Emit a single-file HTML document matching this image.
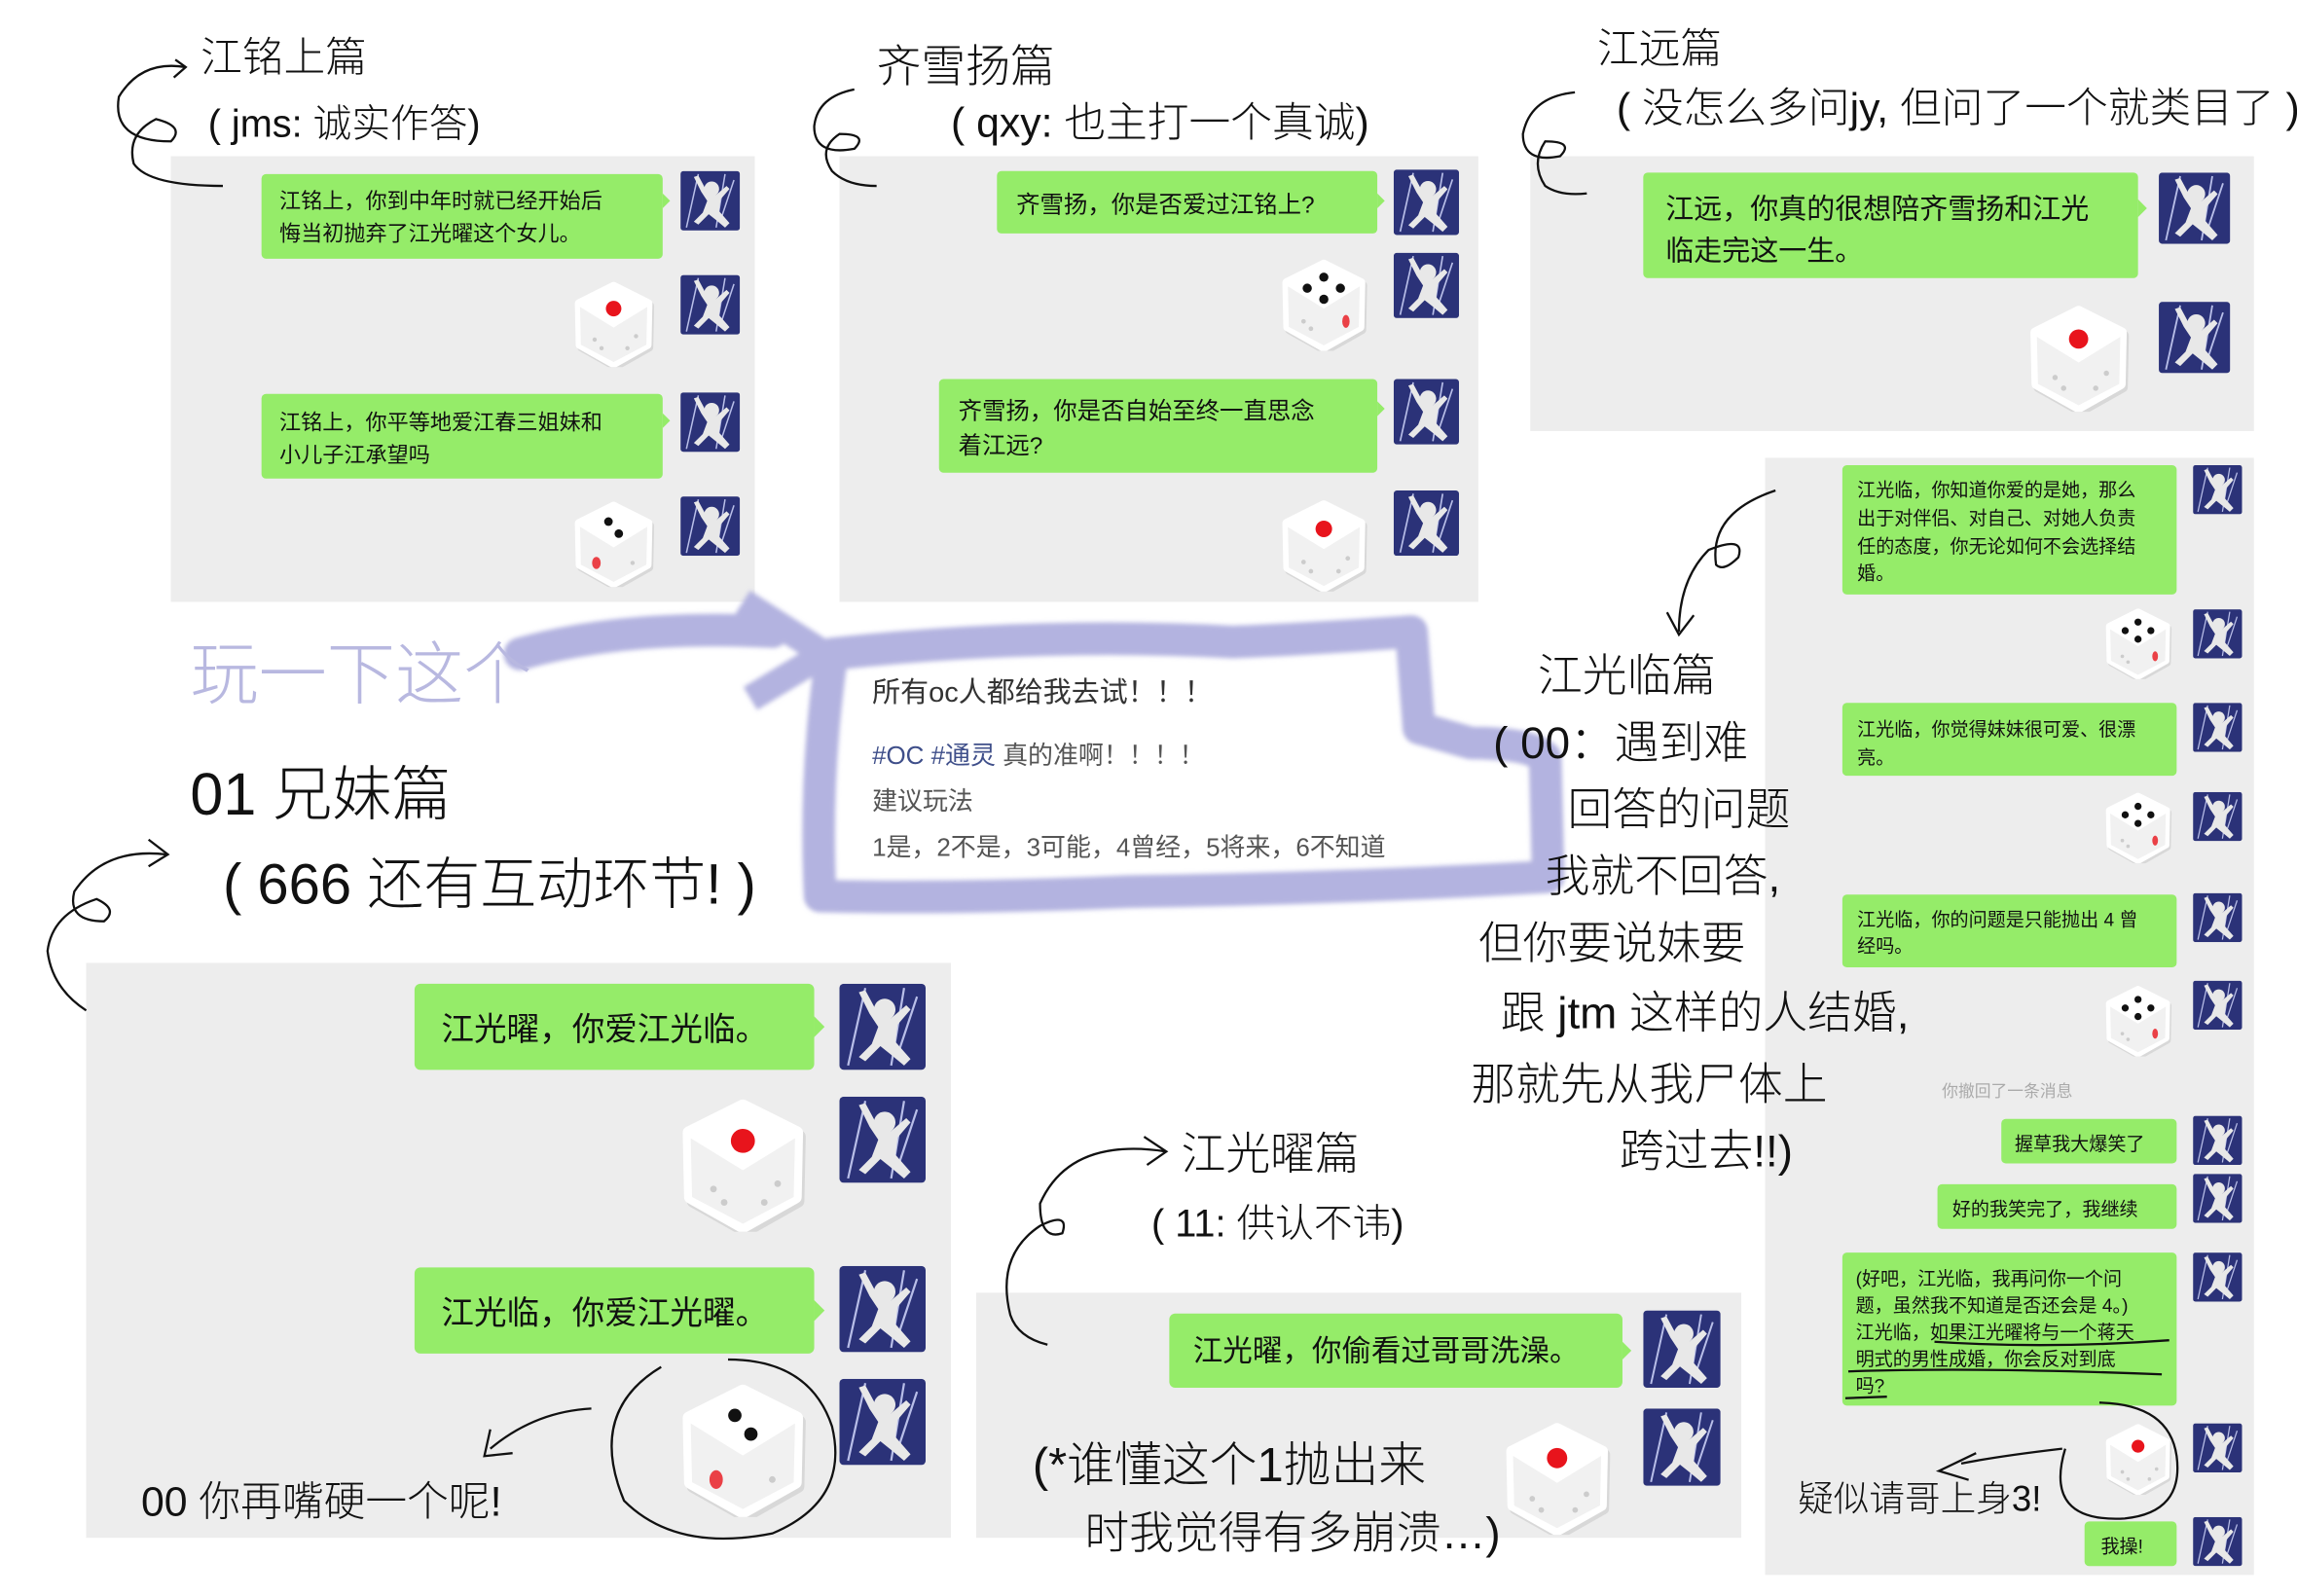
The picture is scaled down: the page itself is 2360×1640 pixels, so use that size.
<!DOCTYPE html>
<html><head><meta charset="utf-8">
<style>
html,body{margin:0;padding:0;background:#fff;}
svg{display:block;}
.s{font-family:"Liberation Sans","Noto Sans CJK SC",sans-serif;}
.h{font-family:"Liberation Sans","Noto Sans CJK SC",sans-serif;font-weight:300;fill:#111;}
</style></head><body>
<svg width="2360" height="1640" viewBox="0 0 1546 1074" xmlns="http://www.w3.org/2000/svg">
<defs>
<filter id="bl" x="-10%" y="-10%" width="120%" height="120%"><feGaussianBlur stdDeviation="1.5"/></filter>
<symbol id="av" viewBox="0 0 40 40">
<rect width="40" height="40" rx="2" fill="#2b3278"/>
<path d="M4 38 L12 2 M30 2 L24 38 M36 6 L28 30" stroke="#b8bee8" stroke-width="1" fill="none"/>
<circle cx="21" cy="12" r="5" fill="#e8e8e8"/>
<path d="M9 4 L14 14 L18 20 L15 28 L9 34 L12 36 L19 29 L24 33 L30 38 L33 35 L26 27 L27 19 L33 12 L31 10 L24 16 L19 16 L12 3 Z" fill="#e8e8e8"/>
</symbol>
<symbol id="dc" viewBox="-50 -50 100 100">
<path d="M0 -44 L40 -24 L39 24 L0 46 L-39 24 L-40 -24 Z" fill="#d8d8d8" stroke="#d8d8d8" stroke-width="10" stroke-linejoin="round" transform="translate(2,3)"/>
<path d="M0 -44 L40 -24 L39 24 L0 46 L-39 24 L-40 -24 Z" fill="#fff" stroke="#fff" stroke-width="10" stroke-linejoin="round"/>
<path d="M0 4 L39 -20 L38 24 L0 44 L-38 24 L-39 -20 Z" fill="#f1f1f1"/>
</symbol>
<symbol id="d1" viewBox="-50 -50 100 100"><use href="#dc" x="-50" y="-50" width="100" height="100"/><circle cx="0" cy="-18" r="9" fill="#e8141c"/><circle cx="-22" cy="18" r="2.5" fill="#ccc"/><circle cx="-14" cy="28" r="2.5" fill="#ccc"/><circle cx="16" cy="28" r="2.5" fill="#ccc"/><circle cx="26" cy="14" r="2.5" fill="#ccc"/></symbol>
<symbol id="d2" viewBox="-50 -50 100 100"><use href="#dc" x="-50" y="-50" width="100" height="100"/><circle cx="-6" cy="-26" r="5" fill="#111"/><circle cx="6" cy="-12" r="5" fill="#111"/><ellipse cx="-20" cy="22" rx="5" ry="7" fill="#e8141c" opacity=".8"/><circle cx="22" cy="22" r="2.5" fill="#ccc"/></symbol>
<symbol id="d4" viewBox="-50 -50 100 100"><use href="#dc" x="-50" y="-50" width="100" height="100"/><circle cx="0" cy="-30" r="5" fill="#111"/><circle cx="-18" cy="-18" r="5" fill="#111"/><circle cx="18" cy="-18" r="5" fill="#111"/><circle cx="0" cy="-6" r="5" fill="#111"/><ellipse cx="24" cy="18" rx="4" ry="7" fill="#e8141c" opacity=".8"/><circle cx="-22" cy="18" r="2.5" fill="#ccc"/><circle cx="-14" cy="26" r="2.5" fill="#ccc"/></symbol>
</defs>

<rect x="115" y="105" width="393" height="300" fill="#ededed"/>
<rect x="565" y="105" width="430" height="300" fill="#ededed"/>
<rect x="1030" y="105" width="487" height="185" fill="#ededed"/>
<rect x="1188" y="308" width="329" height="752" fill="#ededed"/>
<rect x="58" y="648" width="582" height="387" fill="#ededed"/>
<rect x="657" y="870" width="515" height="165" fill="#ededed"/>

<g class="s" fill="#111">
<rect x="176" y="117" width="270" height="57" rx="3" fill="#95ec69"/><path d="M446 130 l5 5 l-5 5z" fill="#95ec69"/>
<text x="188" y="140" font-size="14.5">江铭上，你到中年时就已经开始后</text>
<text x="188" y="162" font-size="14.5">悔当初抛弃了江光曜这个女儿。</text>
<use href="#av" x="458" y="115" width="40" height="40"/>
<use href="#d1" x="384" y="187" width="58" height="62"/>
<use href="#av" x="458" y="185" width="40" height="40"/>
<rect x="176" y="265" width="270" height="57" rx="3" fill="#95ec69"/><path d="M446 278 l5 5 l-5 5z" fill="#95ec69"/>
<text x="188" y="289" font-size="14.5">江铭上，你平等地爱江春三姐妹和</text>
<text x="188" y="311" font-size="14.5">小儿子江承望吗</text>
<use href="#av" x="458" y="264" width="40" height="40"/>
<use href="#d2" x="384" y="335" width="58" height="62"/>
<use href="#av" x="458" y="334" width="40" height="40"/>

<rect x="671" y="115" width="256" height="42" rx="3" fill="#95ec69"/><path d="M927 130 l5 5 l-5 5z" fill="#95ec69"/>
<text x="684" y="143" font-size="16">齐雪扬，你是否爱过江铭上?</text>
<use href="#av" x="938" y="114" width="44" height="44"/>
<use href="#d4" x="860" y="172" width="62" height="66"/>
<use href="#av" x="938" y="170" width="44" height="44"/>
<rect x="632" y="255" width="295" height="63" rx="3" fill="#95ec69"/><path d="M927 270 l5 5 l-5 5z" fill="#95ec69"/>
<text x="645" y="282" font-size="16">齐雪扬，你是否自始至终一直思念</text>
<text x="645" y="305" font-size="16">着江远?</text>
<use href="#av" x="938" y="255" width="44" height="44"/>
<use href="#d1" x="860" y="334" width="62" height="66"/>
<use href="#av" x="938" y="330" width="44" height="44"/>

<rect x="1106" y="116" width="333" height="71" rx="3" fill="#95ec69"/><path d="M1439 134 l6 6 l-6 6z" fill="#95ec69"/>
<text x="1121" y="147" font-size="19">江远，你真的很想陪齐雪扬和江光</text>
<text x="1121" y="175" font-size="19">临走完这一生。</text>
<use href="#av" x="1453" y="116" width="48" height="48"/>
<use href="#d1" x="1363" y="203" width="72" height="76"/>
<use href="#av" x="1453" y="203" width="48" height="48"/>

<g font-size="12.5">
<rect x="1240" y="313" width="225" height="87" rx="3" fill="#95ec69"/>
<text x="1250" y="334">江光临，你知道你爱的是她，那么</text>
<text x="1250" y="353">出于对伴侣、对自己、对她人负责</text>
<text x="1250" y="372">任的态度，你无论如何不会选择结</text>
<text x="1250" y="390">婚。</text>
<use href="#av" x="1476" y="313" width="33" height="33"/>
<use href="#d4" x="1415" y="408" width="48" height="50"/>
<use href="#av" x="1476" y="410" width="33" height="33"/>
<rect x="1240" y="473" width="225" height="49" rx="3" fill="#95ec69"/>
<text x="1250" y="495">江光临，你觉得妹妹很可爱、很漂</text>
<text x="1250" y="514">亮。</text>
<use href="#av" x="1476" y="473" width="33" height="33"/>
<use href="#d4" x="1415" y="532" width="48" height="50"/>
<use href="#av" x="1476" y="533" width="33" height="33"/>
<rect x="1240" y="602" width="225" height="49" rx="3" fill="#95ec69"/>
<text x="1250" y="623">江光临，你的问题是只能抛出 4 曾</text>
<text x="1250" y="641">经吗。</text>
<use href="#av" x="1476" y="601" width="33" height="33"/>
<use href="#d4" x="1415" y="662" width="48" height="50"/>
<use href="#av" x="1476" y="660" width="33" height="33"/>
<text x="1307" y="738" font-size="11" fill="#aaa">你撤回了一条消息</text>
<rect x="1347" y="753" width="118" height="30" rx="3" fill="#95ec69"/>
<text x="1356" y="774">握草我大爆笑了</text>
<use href="#av" x="1476" y="751" width="33" height="33"/>
<rect x="1304" y="797" width="161" height="30" rx="3" fill="#95ec69"/>
<text x="1314" y="818">好的我笑完了，我继续</text>
<use href="#av" x="1476" y="790" width="33" height="33"/>
<rect x="1240" y="843" width="225" height="103" rx="3" fill="#95ec69"/>
<text x="1249" y="865">(好吧，江光临，我再问你一个问</text>
<text x="1249" y="883">题，虽然我不知道是否还会是 4。)</text>
<text x="1249" y="901">江光临，如果江光曜将与一个蒋天</text>
<text x="1249" y="919">明式的男性成婚，你会反对到底</text>
<text x="1249" y="937">吗?</text>
<use href="#av" x="1476" y="843" width="33" height="33"/>
<use href="#d1" x="1415" y="957" width="48" height="50"/>
<use href="#av" x="1476" y="958" width="33" height="33"/>
<rect x="1403" y="1024" width="62" height="30" rx="3" fill="#95ec69"/>
<text x="1414" y="1045">我操!</text>
<use href="#av" x="1476" y="1021" width="33" height="33"/>
</g>
<path d="M1302 903 Q1380 908 1460 902 M1244 923 Q1330 920 1455 925 M1242 941 L1270 940" stroke="#111" stroke-width="1.5" fill="none"/>
<path d="M1390 975 Q1375 1025 1430 1022 Q1470 1018 1465 980 Q1460 945 1413 944" stroke="#111" stroke-width="1.5" fill="none"/>

<rect x="279" y="662" width="269" height="58" rx="4" fill="#95ec69"/><path d="M548 684 l7 7 l-7 7z" fill="#95ec69"/>
<text x="297" y="700" font-size="22">江光曜，你爱江光临。</text>
<use href="#av" x="565" y="662" width="58" height="58"/>
<use href="#d1" x="455" y="738" width="90" height="92"/>
<use href="#av" x="565" y="738" width="58" height="58"/>
<rect x="279" y="853" width="269" height="58" rx="4" fill="#95ec69"/><path d="M548 875 l7 7 l-7 7z" fill="#95ec69"/>
<text x="297" y="891" font-size="22">江光临，你爱江光曜。</text>
<use href="#av" x="565" y="852" width="58" height="58"/>
<use href="#d2" x="455" y="930" width="90" height="92"/>
<use href="#av" x="565" y="928" width="58" height="58"/>
<path d="M445 920 Q395 950 420 1010 Q455 1045 520 1032 Q572 1010 560 960 Q545 915 490 915" stroke="#111" stroke-width="1.5" fill="none"/>

<rect x="787" y="884" width="305" height="50" rx="4" fill="#95ec69"/><path d="M1092 903 l6 6 l-6 6z" fill="#95ec69"/>
<text x="803" y="916" font-size="20">江光曜，你偷看过哥哥洗澡。</text>
<use href="#av" x="1106" y="882" width="52" height="52"/>
<use href="#d1" x="1010" y="956" width="76" height="78"/>
<use href="#av" x="1106" y="948" width="52" height="52"/>
</g>

<g filter="url(#bl)">
<path d="M560 440 Q700 425 830 432 Q880 430 950 425 L955 490 L990 500 Q1030 500 1040 510 L1042 590 Q900 598 760 600 Q650 605 552 603 Q548 520 560 440 Z" fill="none" stroke="#b3b3e0" stroke-width="22" stroke-linejoin="round"/>
<path d="M350 440 Q420 420 520 425" stroke="#b3b3e0" stroke-width="22" fill="none" stroke-linecap="round"/>
<path d="M500 405 L555 440 L505 470" stroke="#b3b3e0" stroke-width="18" fill="none" stroke-linejoin="round"/>
</g>
<g class="s">
<text x="587" y="472" font-size="19" fill="#333">所有oc人都给我去试！！！</text>
<text x="587" y="514" font-size="17" fill="#555"><tspan fill="#3f4f8a">#OC #通灵</tspan> 真的准啊！！！！</text>
<text x="587" y="545" font-size="17" fill="#555">建议玩法</text>
<text x="587" y="576" font-size="17" fill="#555">1是，2不是，3可能，4曾经，5将来，6不知道</text>
</g>
<text class="h" x="128" y="470" font-size="46" style="fill:#b8b8e0">玩一下这个</text>

<g class="h">
<text x="135" y="48" font-size="28">江铭上篇</text>
<text x="140" y="92" font-size="26">( jms: 诚实作答)</text>
<text x="590" y="55" font-size="30">齐雪扬篇</text>
<text x="640" y="92" font-size="28">( qxy: 也主打一个真诚)</text>
<text x="1075" y="42" font-size="28">江远篇</text>
<text x="1088" y="82" font-size="28">( 没怎么多问jy, 但问了一个就类目了 )</text>
<text x="128" y="548" font-size="40">01 兄妹篇</text>
<text x="150" y="608" font-size="38">( 666 还有互动环节! )</text>
<text x="1035" y="465" font-size="30">江光临篇</text>
<text x="1005" y="510" font-size="30">( 00：遇到难</text>
<text x="1055" y="555" font-size="30">回答的问题</text>
<text x="1040" y="600" font-size="30">我就不回答,</text>
<text x="995" y="645" font-size="30">但你要说妹要</text>
<text x="1010" y="692" font-size="30">跟 jtm 这样的人结婚,</text>
<text x="990" y="740" font-size="30">那就先从我尸体上</text>
<text x="1090" y="785" font-size="30">跨过去!!)</text>
<text x="795" y="787" font-size="30">江光曜篇</text>
<text x="775" y="832" font-size="26">( 11: 供认不讳)</text>
<text x="695" y="997" font-size="32">(*谁懂这个1抛出来</text>
<text x="730" y="1042" font-size="30">时我觉得有多崩溃…)</text>
<text x="95" y="1020" font-size="28">00 你再嘴硬一个呢!</text>
<text x="1210" y="1017" font-size="24">疑似请哥上身3!</text>
</g>
<g stroke="#111" stroke-width="1.5" fill="none">
<path d="M125 45 Q95 40 80 65 Q75 95 115 95 Q125 85 105 80 Q85 90 90 110 Q100 125 150 125"/>
<path d="M118 40 L125 45 L117 52"/>
<path d="M575 60 Q550 65 548 85 Q548 105 575 100 Q585 90 565 90 Q550 100 560 115 Q570 125 590 125"/>
<path d="M1060 62 Q1030 65 1025 90 Q1025 110 1050 105 Q1060 95 1040 95 Q1030 110 1040 125 Q1050 132 1068 130"/>
<path d="M112 575 Q70 570 50 600 Q45 620 70 620 Q80 612 65 605 Q35 615 32 640 Q35 665 58 680"/>
<path d="M100 565 L113 575 L100 583"/>
<path d="M1195 330 Q1150 345 1155 380 Q1160 385 1170 375 Q1175 360 1150 370 Q1130 390 1130 425"/>
<path d="M1122 412 L1130 427 L1140 414"/>
<path d="M785 775 Q720 765 700 810 Q700 835 715 830 Q720 815 700 825 Q670 845 680 885 Q685 900 705 905"/>
<path d="M770 765 L785 775 L772 784"/>
<path d="M398 948 Q360 950 330 975"/>
<path d="M330 962 L326 980 L345 978"/>
<path d="M1388 975 Q1345 980 1320 985"/>
<path d="M1330 978 L1305 990 L1325 996"/>
</g>
</svg>
</body></html>
